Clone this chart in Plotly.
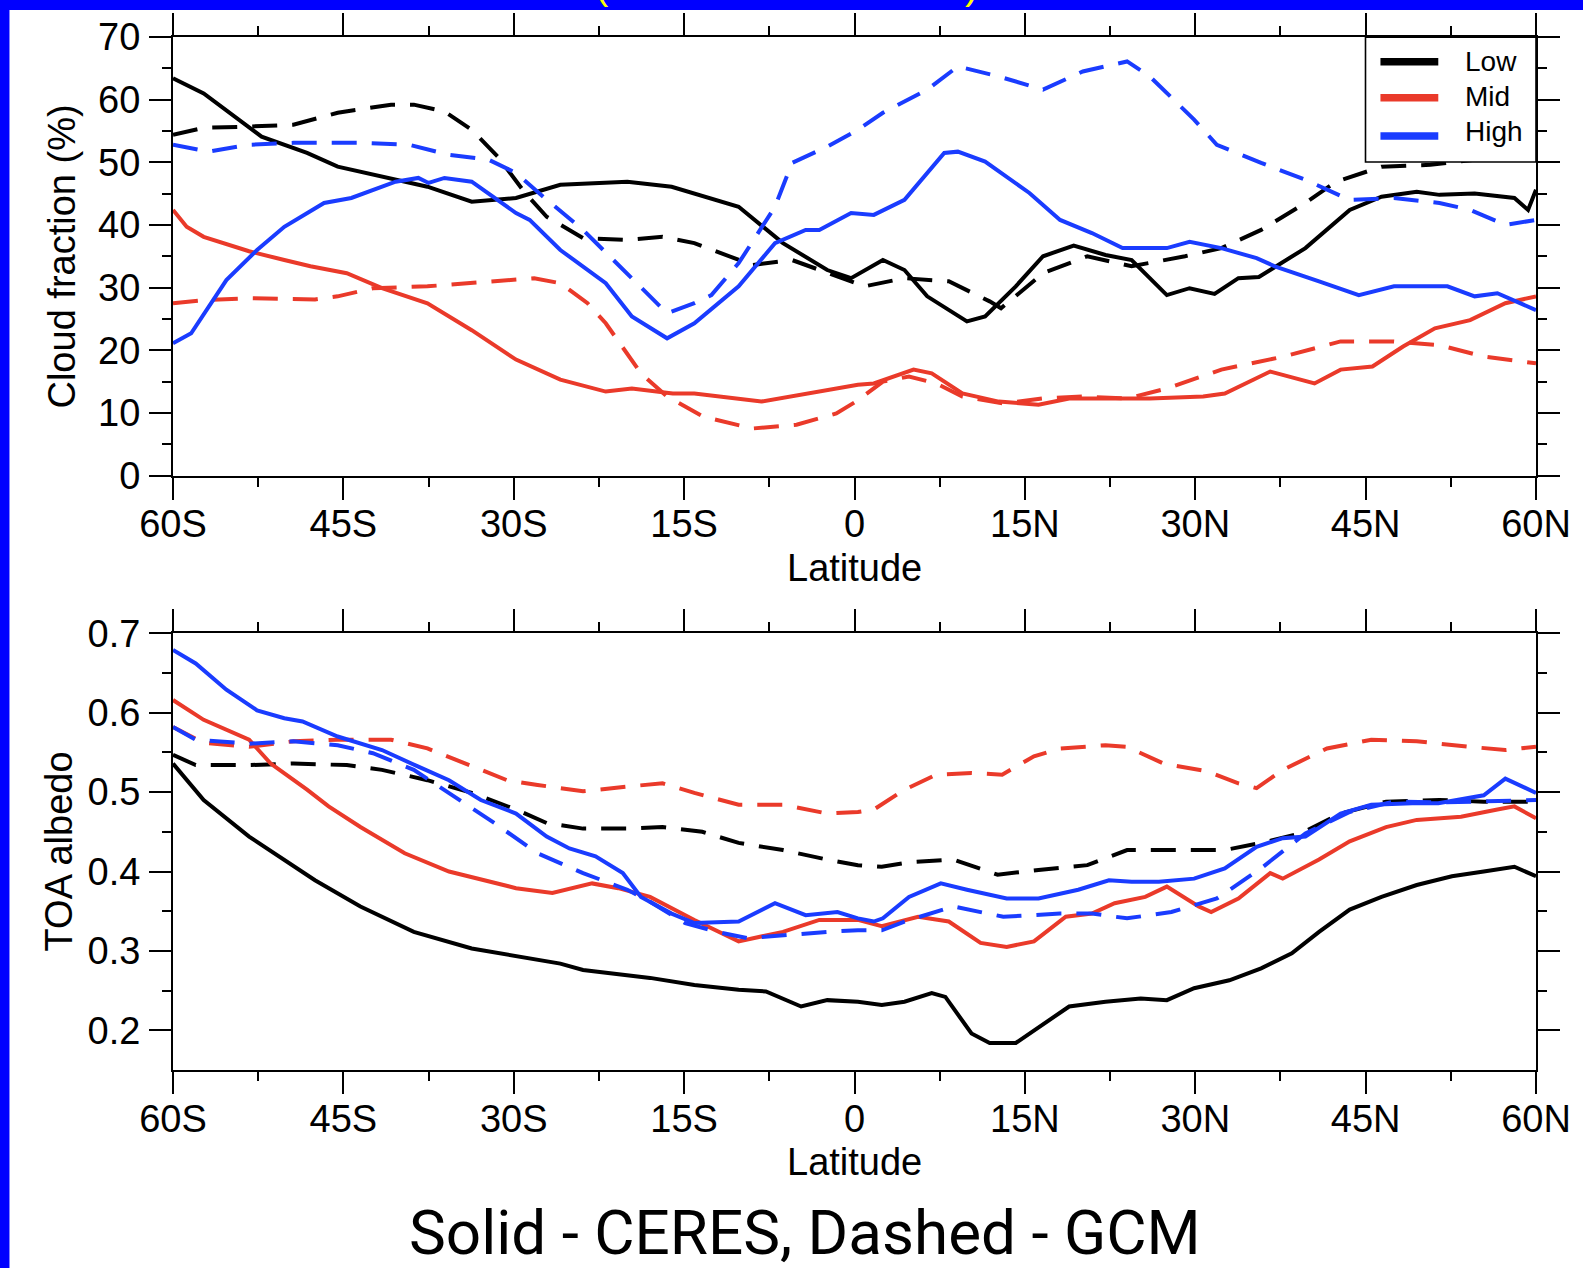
import plotly.graph_objects as go

# ---------------------------------------------------------------------------
# Zonal means, 60S-60N (negative latitude = south)
# ---------------------------------------------------------------------------
LAT_TICKS = [-60, -45, -30, -15, 0, 15, 30, 45, 60]
LAT_LABELS = ["60S", "45S", "30S", "15S", "0", "15N", "30N", "45N", "60N"]
LAT_MINOR = [-52.5, -37.5, -22.5, -7.5, 7.5, 22.5, 37.5, 52.5]

CF_TICKS = [0, 10, 20, 30, 40, 50, 60, 70]
CF_MINOR = [5, 15, 25, 35, 45, 55, 65]
ALB_TICKS = [0.2, 0.3, 0.4, 0.5, 0.6, 0.7]
ALB_LABELS = ["0.2", "0.3", "0.4", "0.5", "0.6", "0.7"]
ALB_MINOR = [0.25, 0.35, 0.45, 0.55, 0.65]

# Cloud fraction (%) -- CERES (solid)
low_ceres_lat = [-60, -57.3, -52.2, -48.2, -45.5, -41.6, -37.6, -33.7, -29.8, -25.9, -20.0, -16.1,
                 -12.2, -10.2, -6.3, -2.4, -0.3, 2.5, 4.4, 6.4, 9.9, 11.5, 14.2, 16.6, 19.3, 22.1,
                 24.4, 27.5, 29.5, 31.7, 33.8, 35.6, 39.7, 43.6, 46.4, 49.5, 51.5, 54.6, 58.1, 59.3, 60]
low_ceres_cf = [63.4, 61.0, 54.1, 51.5, 49.3, 47.7, 46.1, 43.7, 44.3, 46.4, 46.9, 46.1,
                44.0, 42.9, 37.1, 32.8, 31.5, 34.4, 32.8, 28.6, 24.6, 25.4, 30.2, 35.0, 36.7, 35.2,
                34.4, 28.8, 29.9, 29.0, 31.5, 31.7, 36.3, 42.4, 44.5, 45.3, 44.8, 45.0, 44.3, 42.4, 45.6]

mid_ceres_lat = [-60, -58.8, -57.3, -53.3, -50.2, -47.9, -44.7, -41.6, -37.6, -33.7, -29.8, -25.9,
                 -21.9, -19.6, -16.0, -14.1, -8.2, -4.3, -1.5, 0.3, 1.7, 5.2, 6.8, 9.5, 12.7, 16.2,
                 18.9, 22.1, 26.0, 30.7, 32.6, 36.6, 40.5, 42.8, 45.6, 48.3, 51.1, 54.2, 57.3, 60]
mid_ceres_cf = [42.4, 39.7, 38.1, 35.8, 34.4, 33.4, 32.3, 29.9, 27.5, 23.2, 18.5, 15.3,
                13.4, 13.9, 13.1, 13.1, 11.8, 13.1, 13.9, 14.5, 14.7, 16.9, 16.3, 13.1, 11.8, 11.3,
                12.3, 12.3, 12.3, 12.6, 13.1, 16.6, 14.7, 16.9, 17.4, 20.6, 23.5, 24.8, 27.5, 28.6]

high_ceres_lat = [-60, -58.4, -55.3, -52.6, -50.2, -46.7, -44.3, -40.4, -38.4, -37.5, -36.1, -33.7,
                  -29.8, -28.6, -25.9, -21.9, -19.6, -16.5, -14.1, -10.2, -7.0, -4.3, -3.1, -1.5,
                  -0.3, 1.7, 4.4, 7.9, 9.1, 11.5, 15.4, 18.1, 20.9, 23.6, 27.5, 29.5, 32.3, 35.4,
                  37.0, 40.9, 44.4, 47.5, 52.2, 54.6, 56.6, 60]
high_ceres_cf = [21.1, 22.7, 31.2, 36.0, 39.7, 43.5, 44.3, 46.9, 47.5, 46.7, 47.5, 46.9,
                 41.9, 40.8, 36.0, 30.7, 25.4, 21.9, 24.3, 30.2, 37.1, 39.2, 39.2, 40.8,
                 41.9, 41.6, 44.0, 51.5, 51.7, 50.1, 45.1, 40.8, 38.7, 36.3, 36.3, 37.3, 36.3, 34.7,
                 33.4, 31.0, 28.8, 30.2, 30.2, 28.6, 29.1, 26.4]

# Cloud fraction (%) -- GCM (dashed)
low_gcm_lat = [-60, -57.3, -53.3, -49.4, -45.5, -40.8, -38.8, -36.1, -33.7, -31.4, -29.0, -27.1,
               -23.9, -20.0, -16.9, -14.1, -9.0, -5.5, 0.9, 4.4, 8.3, 11.9, 12.9, 16.6, 20.5, 24.4,
               29.1, 32.3, 35.8, 39.7, 42.4, 46.4, 50.7, 55.0, 60]
low_gcm_cf = [54.4, 55.5, 55.7, 56.0, 57.9, 59.2, 59.2, 58.1, 55.2, 50.9, 45.1, 41.3,
              37.9, 37.6, 38.1, 37.1, 33.6, 34.4, 30.2, 31.5, 31.0, 27.8, 26.7, 32.3, 35.0, 33.4,
              35.0, 36.3, 39.2, 43.5, 46.9, 49.3, 49.6, 50.5, 51.0]

mid_gcm_lat = [-60, -57.3, -53.3, -47.5, -45.5, -42.4, -37.6, -33.7, -28.2, -25.9, -23.5, -21.9,
               -18.8, -16.5, -13.3, -9.0, -5.1, -1.6, 0.3, 2.5, 4.8, 7.2, 9.5, 13.1, 16.6, 20.1,
               24.0, 27.5, 32.3, 37.8, 42.8, 47.5, 51.5, 55.4, 60]
mid_gcm_cf = [27.5, 28.0, 28.3, 28.1, 28.6, 29.9, 30.2, 30.7, 31.5, 30.7, 27.5, 24.3,
              16.3, 12.6, 9.4, 7.5, 8.1, 9.9, 12.0, 15.0, 15.8, 14.7, 12.6, 11.5, 12.3, 12.6,
              12.3, 13.9, 16.9, 19.0, 21.4, 21.4, 20.8, 19.0, 17.9]

high_gcm_lat = [-60, -56.9, -53.3, -49.4, -43.5, -39.2, -35.7, -32.2, -29.8, -27.4, -23.9, -20.0,
                -16.5, -14.1, -12.6, -10.2, -7.0, -5.5, -2.4, 0.3, 2.5, 6.4, 9.1, 12.7, 16.6, 20.1,
                24.0, 26.0, 29.9, 31.9, 35.8, 39.7, 43.6, 47.5, 51.5, 54.2, 57.3, 60]
high_gcm_cf = [52.8, 51.7, 52.8, 53.1, 53.1, 52.8, 51.2, 50.4, 48.3, 44.5, 39.2, 32.3,
               25.9, 27.5, 28.8, 33.9, 42.9, 49.9, 52.5, 55.2, 57.9, 61.6, 65.3, 63.7, 61.6, 64.5,
               66.1, 63.7, 56.8, 52.8, 49.9, 47.2, 44.0, 44.3, 43.5, 42.4, 40.0, 40.8]

# TOA albedo -- CERES (solid)
low_ceres_alb_lat = [-60, -57.3, -53.3, -47.5, -43.5, -38.8, -33.7, -29.8, -25.9, -23.9, -18.0, -14.1,
                     -10.2, -7.8, -4.7, -2.4, 0.3, 2.4, 4.4, 6.8, 8.0, 10.3, 11.9, 14.2, 16.2, 18.9,
                     22.1, 25.2, 27.5, 29.9, 33.0, 35.8, 38.5, 40.9, 43.6, 46.4, 49.5, 52.6, 55.4,
                     58.1, 60]
low_ceres_alb = [0.536, 0.490, 0.444, 0.389, 0.356, 0.324, 0.303, 0.293, 0.284, 0.276, 0.266, 0.257,
                 0.251, 0.249, 0.230, 0.238, 0.236, 0.232, 0.236, 0.247, 0.242, 0.196, 0.184, 0.184,
                 0.203, 0.230, 0.236, 0.240, 0.238, 0.253, 0.263, 0.278, 0.297, 0.324, 0.352, 0.368,
                 0.383, 0.394, 0.400, 0.406, 0.394]

mid_ceres_alb_lat = [-60, -57.3, -53.3, -51.4, -48.2, -46.3, -43.5, -39.6, -35.7, -31.7, -29.8, -26.6,
                     -23.1, -20.8, -18.0, -14.1, -10.2, -6.3, -3.1, 0.3, 2.4, 5.6, 8.3, 11.1, 13.4,
                     15.8, 18.6, 20.9, 22.9, 25.6, 27.5, 30.3, 31.4, 33.8, 36.6, 37.7, 40.9, 43.6,
                     46.8, 49.5, 53.4, 56.6, 58.1, 60]
mid_ceres_alb = [0.616, 0.591, 0.566, 0.536, 0.503, 0.482, 0.456, 0.423, 0.400, 0.385, 0.379, 0.373,
                 0.385, 0.379, 0.368, 0.339, 0.312, 0.324, 0.339, 0.339, 0.331, 0.343, 0.337, 0.310,
                 0.305, 0.312, 0.343, 0.347, 0.360, 0.368, 0.381, 0.356, 0.349, 0.366, 0.398, 0.391,
                 0.415, 0.438, 0.456, 0.465, 0.469, 0.478, 0.482, 0.467]

high_ceres_alb_lat = [-60, -58.0, -55.3, -52.6, -50.2, -48.6, -45.5, -41.6, -38.4, -35.7, -32.9, -29.8,
                      -27.1, -25.1, -22.8, -20.4, -18.8, -16.1, -14.1, -10.2, -7.0, -4.3, -1.5, 0.3,
                      1.7, 2.5, 4.8, 7.6, 9.9, 13.4, 16.2, 19.7, 22.4, 24.4, 26.8, 29.9, 32.6, 35.4,
                      37.7, 39.7, 42.8, 45.5, 49.1, 51.4, 55.4, 57.3, 60]
high_ceres_alb = [0.679, 0.662, 0.629, 0.603, 0.593, 0.589, 0.570, 0.553, 0.532, 0.515, 0.490, 0.473,
                  0.444, 0.429, 0.419, 0.398, 0.368, 0.347, 0.335, 0.337, 0.360, 0.345, 0.349, 0.341,
                  0.337, 0.341, 0.368, 0.385, 0.377, 0.366, 0.366, 0.377, 0.389, 0.387, 0.387, 0.391,
                  0.404, 0.431, 0.442, 0.444, 0.473, 0.484, 0.486, 0.486, 0.496, 0.517, 0.499]

# TOA albedo -- GCM (dashed)
low_gcm_alb_lat = [-60, -58.0, -53.3, -49.4, -44.7, -41.6, -37.6, -33.7, -29.8, -27.1, -23.9, -20.0,
                   -16.9, -13.4, -10.2, -6.3, -2.4, 0.3, 2.4, 5.0, 8.7, 12.6, 16.2, 20.5, 24.0, 29.1,
                   32.6, 35.8, 39.3, 42.8, 46.8, 51.5, 55.4, 60]
low_gcm_alb = [0.547, 0.534, 0.534, 0.536, 0.534, 0.528, 0.515, 0.499, 0.478, 0.461, 0.454, 0.454,
               0.456, 0.450, 0.436, 0.427, 0.415, 0.408, 0.406, 0.412, 0.415, 0.396, 0.402, 0.408,
               0.427, 0.427, 0.427, 0.436, 0.448, 0.473, 0.488, 0.490, 0.488, 0.488]

mid_gcm_alb_lat = [-60, -57.3, -53.3, -49.4, -45.5, -40.8, -37.6, -33.7, -30.6, -27.9, -23.9, -20.0,
                   -16.9, -14.1, -10.2, -6.3, -2.4, 0.3, 1.7, 4.4, 7.2, 10.3, 13.0, 15.8, 18.1, 22.1,
                   24.0, 27.2, 31.1, 33.8, 35.4, 37.7, 41.6, 45.5, 49.5, 54.2, 57.3, 60]
mid_gcm_alb = [0.582, 0.562, 0.557, 0.564, 0.566, 0.566, 0.555, 0.532, 0.515, 0.509, 0.501, 0.507,
               0.511, 0.499, 0.484, 0.484, 0.473, 0.475, 0.478, 0.503, 0.522, 0.524, 0.522, 0.545,
               0.555, 0.559, 0.557, 0.536, 0.526, 0.511, 0.505, 0.528, 0.555, 0.566, 0.564, 0.557,
               0.553, 0.557]

high_gcm_alb_lat = [-60, -58.0, -53.3, -49.4, -45.5, -42.4, -38.8, -35.7, -31.7, -27.9, -23.9, -20.0,
                    -18.0, -14.9, -12.1, -9.4, -6.3, -2.4, 0.3, 2.4, 4.4, 8.7, 13.1, 18.1, 20.9, 24.0,
                    27.9, 31.9, 35.8, 39.7, 43.6, 47.5, 51.5, 55.4, 60]
high_gcm_alb = [0.582, 0.566, 0.561, 0.564, 0.559, 0.549, 0.528, 0.499, 0.461, 0.423, 0.398, 0.377,
                0.362, 0.335, 0.324, 0.316, 0.320, 0.324, 0.326, 0.326, 0.337, 0.356, 0.343, 0.347,
                0.347, 0.341, 0.349, 0.366, 0.404, 0.448, 0.475, 0.488, 0.487, 0.488, 0.490]

LEVELS = ["Low", "Mid", "High"]
COLORS = {"Low": "#000000", "Mid": "#EA3A2A", "High": "#1A3CFF"}

# ---------------------------------------------------------------------------
# Page geometry (pixels)
# ---------------------------------------------------------------------------
W, H = 1583, 1268
ML, MR, MT, MB = 173, 43, 37, 198
PW = W - ML - MR
PH = H - MT - MB


def fx(px):
    return (px - ML) / PW


def fy(py):
    return (H - MB - py) / PH


TOP_DOMAIN = [fy(475.5), 1.0]
BOT_DOMAIN = [0.0, fy(633.3)]

AX_FONT = "Liberation Sans, Arial, sans-serif"
LINE_W = 4
DASH = "25px,15px"

fig = go.Figure()

top_series = [
    ("Low", low_ceres_lat, low_ceres_cf, low_gcm_lat, low_gcm_cf),
    ("Mid", mid_ceres_lat, mid_ceres_cf, mid_gcm_lat, mid_gcm_cf),
    ("High", high_ceres_lat, high_ceres_cf, high_gcm_lat, high_gcm_cf),
]
bot_series = [
    ("Low", low_ceres_alb_lat, low_ceres_alb, low_gcm_alb_lat, low_gcm_alb),
    ("Mid", mid_ceres_alb_lat, mid_ceres_alb, mid_gcm_alb_lat, mid_gcm_alb),
    ("High", high_ceres_alb_lat, high_ceres_alb, high_gcm_alb_lat, high_gcm_alb),
]

for axes, series in (("x", top_series), ("x2", bot_series)):
    yref = "y" if axes == "x" else "y2"
    for name, lat_o, val_o, lat_m, val_m in series:
        fig.add_trace(go.Scatter(
            x=lat_m, y=val_m, mode="lines", name=name + " GCM", showlegend=False,
            line=dict(color=COLORS[name], width=LINE_W, dash=DASH),
            xaxis=axes, yaxis=yref, hoverinfo="skip"))
        fig.add_trace(go.Scatter(
            x=lat_o, y=val_o, mode="lines", name=name + " CERES", showlegend=False,
            line=dict(color=COLORS[name], width=LINE_W),
            xaxis=axes, yaxis=yref, hoverinfo="skip"))


def frame_axis(**kw):
    base = dict(
        ticks="outside", ticklen=22, tickwidth=1.6, tickcolor="black",
        showline=True, linecolor="black", linewidth=2, mirror="allticks",
        showgrid=False, zeroline=False,
        tickfont=dict(family=AX_FONT, size=38, color="black"),
    )
    base.update(kw)
    return base


minor_style = dict(ticks="outside", ticklen=9, tickwidth=1.6, tickcolor="black", showgrid=False)

fig.update_layout(
    width=W, height=H,
    margin=dict(l=ML, r=MR, t=MT, b=MB, pad=0),
    paper_bgcolor="#0000FF",
    plot_bgcolor="white",
    showlegend=False,
    xaxis=frame_axis(domain=[0, 1], anchor="y", range=[-60, 60], tickmode="array",
                     tickvals=LAT_TICKS, ticktext=LAT_LABELS, ticklabelstandoff=-8,
                     minor=dict(tickvals=LAT_MINOR, **minor_style)),
    yaxis=frame_axis(domain=TOP_DOMAIN, anchor="x", range=[0, 70], tickmode="array",
                     tickvals=CF_TICKS, ticklabelstandoff=1,
                     minor=dict(tickvals=CF_MINOR, **minor_style)),
    xaxis2=frame_axis(domain=[0, 1], anchor="y2", range=[-60, 60], tickmode="array",
                      tickvals=LAT_TICKS, ticktext=LAT_LABELS, ticklabelstandoff=-8,
                      minor=dict(tickvals=LAT_MINOR, **minor_style)),
    yaxis2=frame_axis(domain=BOT_DOMAIN, anchor="x2", range=[0.15, 0.7], tickmode="array",
                      tickvals=ALB_TICKS, ticktext=ALB_LABELS, ticklabelstandoff=1,
                      minor=dict(tickvals=ALB_MINOR, **minor_style)),
)

shapes = [
    # white slide panel inside the blue frame
    dict(type="rect", xref="paper", yref="paper", layer="below",
         x0=fx(9), x1=fx(W + 5), y0=fy(H + 5), y1=fy(10),
         fillcolor="white", line=dict(width=0)),
    # legend box
    dict(type="rect", xref="paper", yref="paper", layer="above",
         x0=fx(1369), x1=fx(1540), y0=fy(162), y1=fy(37.3),
         fillcolor="white", line=dict(color="black", width=1.6)),
]
legend_rows = {"Low": 61.7, "Mid": 97.7, "High": 136.0}
legend_text_y = {"Low": 62.0, "Mid": 96.5, "High": 132.0}
for name in LEVELS:
    shapes.append(dict(type="line", xref="paper", yref="paper", layer="above",
                       x0=fx(1384), x1=fx(1442), y0=fy(legend_rows[name]), y1=fy(legend_rows[name]),
                       line=dict(color=COLORS[name], width=7.5)))
fig.update_layout(shapes=shapes)

annotations = []
for name in LEVELS:
    annotations.append(dict(text=name, xref="paper", yref="paper", x=fx(1467), y=fy(legend_text_y[name]),
                            xanchor="left", yanchor="middle", showarrow=False,
                            font=dict(family=AX_FONT, size=28, color="black")))

# axis titles
annotations += [
    dict(text="Latitude", xref="paper", yref="paper", x=fx(856.6), y=fy(567.5),
         xanchor="center", yanchor="middle", showarrow=False,
         font=dict(family=AX_FONT, size=38, color="black")),
    dict(text="Latitude", xref="paper", yref="paper", x=fx(856.6), y=fy(1162),
         xanchor="center", yanchor="middle", showarrow=False,
         font=dict(family=AX_FONT, size=38, color="black")),
    dict(text="Cloud fraction (%)", xref="paper", yref="paper", x=fx(61.8), y=fy(256.4),
         xanchor="center", yanchor="middle", textangle=-90, showarrow=False,
         font=dict(family=AX_FONT, size=38, color="black")),
    dict(text="TOA albedo", xref="paper", yref="paper", x=fx(58.5), y=fy(851.6),
         xanchor="center", yanchor="middle", textangle=-90, showarrow=False,
         font=dict(family=AX_FONT, size=38, color="black")),
    # caption
    dict(text="Solid - CERES, Dashed - GCM", xref="paper", yref="paper", x=fx(806.5), y=fy(1232),
         xanchor="center", yanchor="middle", showarrow=False,
         font=dict(family="Roboto, sans-serif", size=62, color="black")),
    # slide title brackets peeking in at the top edge
    dict(text="(", xref="paper", yref="paper", x=fx(603), y=fy(9),
         xanchor="center", yanchor="bottom", showarrow=False,
         font=dict(family=AX_FONT, size=40, color="#FFFF00")),
    dict(text=")", xref="paper", yref="paper", x=fx(974), y=fy(9),
         xanchor="center", yanchor="bottom", showarrow=False,
         font=dict(family=AX_FONT, size=40, color="#FFFF00")),
]
fig.update_layout(annotations=annotations)

fig.write_html("out.html")
